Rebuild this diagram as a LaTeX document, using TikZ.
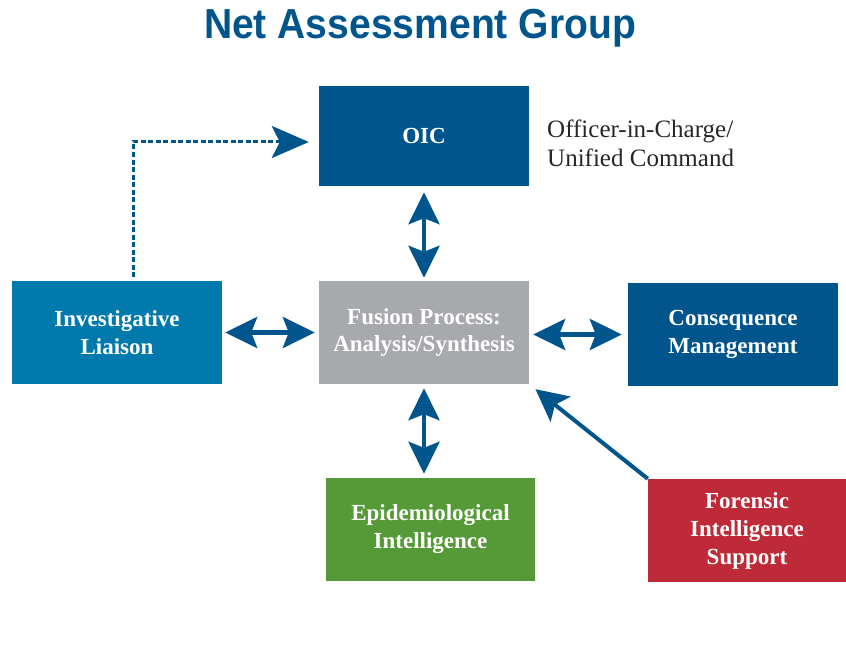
\documentclass[tikz,border=0pt]{standalone}
\usepackage{fontspec}
\setmainfont{Liberation Serif}
\newfontfamily\titlefont[FakeStretch=0.93]{Liberation Sans}
\usetikzlibrary{arrows.meta,calc}
\definecolor{navy}{HTML}{00558C}
\definecolor{midblue}{HTML}{0079AD}
\definecolor{fgray}{HTML}{A7A9AC}
\definecolor{fgreen}{HTML}{559A36}
\definecolor{fred}{HTML}{BE2A37}
\definecolor{sidetext}{HTML}{262626}
\tikzset{
  boxnode/.style={minimum width=210pt, minimum height=103pt, inner sep=0pt, text=white,
    align=center, font=\bfseries\fontsize{23}{28}\selectfont},
  biarrow/.style={navy, line width=4.5pt, {Stealth[length=32pt,width=31pt,inset=6pt]}-{Stealth[length=32pt,width=31pt,inset=6pt]}},
  oneway/.style={navy, line width=4pt, -{Stealth[length=32pt,width=32pt,inset=7pt]}},
}
\begin{document}
\begin{tikzpicture}[x=1pt,y=-1pt]
\useasboundingbox (0,0) rectangle (846,666);
\node[text=navy, font=\titlefont\bfseries\fontsize{42}{46}\selectfont] (title) at (420,28) {Net Assessment Group};
\node[boxnode, fill=navy, minimum height=100pt] (OIC) at (424,136) {OIC};
\node[boxnode, fill=midblue] (Inv) at (117,332.5) {Investigative\\Liaison};
\node[boxnode, fill=fgray] (Fus) at (424,332.5) {Fusion Process:\\Analysis/Synthesis};
\node[boxnode, fill=navy] (Con) at (733,334.5) {Consequence\\Management};
\node[boxnode, fill=fgreen, minimum width=209pt] (Epi) at (430.5,529.5) {Epidemiological\\Intelligence};
\node[boxnode, fill=fred, minimum width=198pt] (For) at (747,530.5) {Forensic\\Intelligence\\Support};
\node[anchor=north west, align=left, text=sidetext, inner sep=0pt,
  font=\fontsize{25}{29}\selectfont] (side) at (547,120) {Officer-in-Charge/\\Unified Command};
% connectors
\draw[biarrow, shorten <=6pt, shorten >=3pt] (OIC.south) -- (Fus.north);
\draw[biarrow, shorten <=3pt, shorten >=4pt] (Inv.east) -- (Fus.west);
\draw[biarrow, shorten <=4pt, shorten >=6pt] (Fus.east |- Con.west) -- (Con.west);
\draw[biarrow, shorten <=4pt, shorten >=4pt] (Fus.south) -- (Fus.south |- Epi.north);
\draw[oneway, shorten >=8pt] (For.north west) -- (Fus.south east);
\coordinate (d0) at (133,277);
\coordinate (d1) at ($(OIC.west)+(0,6)$);
\draw[navy, line width=3pt, dash pattern=on 5pt off 2.5pt,
  -{Stealth[length=37pt,width=32pt,inset=8pt]}, shorten >=10pt] (d0) |- (d1);
\end{tikzpicture}
\end{document}
